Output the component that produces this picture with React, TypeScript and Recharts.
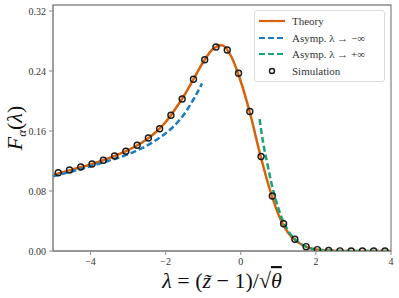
import React from "react"
import {
  ComposedChart,
  Line,
  Scatter,
  XAxis,
  YAxis,
  ReferenceArea,
} from "recharts"

// theory curve
const theoryLambda = [
  -5, -4.5, -4, -3.5, -3, -2.75, -2.5, -2.25, -2, -1.75, -1.5, -1.25, -1, -0.75,
  -0.5, -0.25, 0, 0.25, 0.5, 0.75, 1, 1.25, 1.5, 1.75, 2, 2.5, 3, 4,
]
const theoryF = [
  0.1015, 0.1085, 0.1153, 0.124, 0.1345, 0.141, 0.149, 0.159, 0.172, 0.189,
  0.208, 0.23, 0.252, 0.269, 0.2745, 0.259, 0.226, 0.183, 0.132, 0.086, 0.049,
  0.025, 0.0125, 0.0055, 0.002, 0.0003, 0, 0,
]

// asymptote lambda -> -inf
const negLambda = [-5, -4.5, -4, -3.5, -3, -2.5, -2.25, -2, -1.75, -1.5, -1.25, -1.03]
const negF = [0.0995, 0.106, 0.113, 0.1205, 0.129, 0.1405, 0.148, 0.157, 0.168, 0.183, 0.203, 0.2236]

// asymptote lambda -> +inf
const posLambda = [0.5, 0.6, 0.7, 0.8, 0.9, 1, 1.1, 1.25, 1.5, 1.75, 2, 2.5, 3, 4]
const posF = [0.176, 0.143, 0.118, 0.094, 0.074, 0.057, 0.043, 0.028, 0.013, 0.0055, 0.002, 0.0003, 0, 0]

// simulation points
const simLambda = [
  -4.86, -4.56, -4.26, -3.96, -3.66, -3.36, -3.06, -2.76, -2.46, -2.16, -1.86,
  -1.56, -1.26, -0.96, -0.66, -0.36, -0.06, 0.24, 0.54, 0.84, 1.14, 1.44, 1.74,
  2.04, 2.34, 2.64, 2.94, 3.24, 3.54, 3.84,
]
const simF = [
  0.1044, 0.108, 0.112, 0.116, 0.121, 0.1267, 0.133, 0.141, 0.1507, 0.163,
  0.181, 0.2027, 0.229, 0.255, 0.272, 0.268, 0.237, 0.186, 0.126, 0.0733,
  0.0364, 0.0156, 0.0058, 0.0018, 0.0006, 0.0002, 0.0001, 0, 0, 0,
]

const xTicks = [-4, -2, 0, 2, 4]
const yTicks = [0, 0.08, 0.16, 0.24, 0.32]

const ORANGE = "#d8620b"
const BLUE = "#1b7cc0"
const GREEN = "#16a37a"
const SPINE = "#8a8a8a"
const SERIF = "'Liberation Serif', 'DejaVu Serif', serif"

const zip = (xs: number[], ys: number[]) => xs.map((x, i) => ({ x, y: ys[i] }))

const theoryData = zip(theoryLambda, theoryF)
const negData = zip(negLambda, negF)
const posData = zip(posLambda, posF)
const simData = zip(simLambda, simF)

function SimDot(props: any) {
  const { cx, cy } = props
  if (cx == null || cy == null) return null
  return <circle cx={cx} cy={cy} r={3} fill="none" stroke="#1a1a1a" strokeWidth={1.4} />
}

function LegendBox() {
  const rows = [
    { kind: "solid", color: ORANGE, label: "Theory" },
    { kind: "dash", color: BLUE, label: "Asymp. λ → −∞" },
    { kind: "dash", color: GREEN, label: "Asymp. λ → +∞" },
    { kind: "dot", color: "#1a1a1a", label: "Simulation" },
  ]
  return (
    <div
      style={{
        position: "absolute",
        left: 254,
        top: 10,
        width: 131,
        border: "1px solid #dcdcdc",
        borderRadius: 3,
        background: "rgba(255,255,255,0.85)",
        padding: "2px 0",
        fontFamily: SERIF,
        fontSize: 11,
        color: "#333",
        boxSizing: "border-box",
      }}
    >
      {rows.map((r) => (
        <div key={r.label} style={{ display: "flex", alignItems: "center", height: 16.5 }}>
          <svg width={34} height={10} style={{ marginLeft: 3 }}>
            {r.kind === "dot" ? (
              <circle cx={14} cy={5} r={2.5} fill="none" stroke={r.color} strokeWidth={1.4} />
            ) : (
              <line
                x1={1}
                x2={27}
                y1={5}
                y2={5}
                stroke={r.color}
                strokeWidth={2.2}
                strokeDasharray={r.kind === "dash" ? "6 3" : undefined}
              />
            )}
          </svg>
          <span>{r.label}</span>
        </div>
      ))}
    </div>
  )
}

function XLabel(props: any) {
  const vb = props.viewBox || {}
  const cx = vb.x + vb.width / 2
  return (
    <text x={cx} y={288} textAnchor="middle" fontFamily={SERIF} fontSize={22} fill="#111">
      <tspan fontStyle="italic">λ</tspan>
      <tspan> = (</tspan>
      <tspan fontStyle="italic">z̃</tspan>
      <tspan> − 1)/√</tspan>
      <tspan fontStyle="italic" textDecoration="overline">θ</tspan>
    </text>
  )
}

function YLabel(props: any) {
  const vb = props.viewBox || {}
  const cy = vb.y + vb.height / 2
  return (
    <text
      x={22}
      y={cy}
      transform={`rotate(-90, 22, ${cy})`}
      textAnchor="middle"
      fontFamily={SERIF}
      fontSize={22}
      fill="#111"
    >
      <tspan fontStyle="italic">F</tspan>
      <tspan fontStyle="italic" fontSize={13} dy={4}>α</tspan>
      <tspan dy={-4}>(</tspan>
      <tspan fontStyle="italic">λ</tspan>
      <tspan>)</tspan>
    </text>
  )
}

export default function App() {
  const tick = { fontSize: 10, fill: "#333", fontFamily: SERIF }
  return (
    <div style={{ position: "absolute", left: 0, top: 0, width: 399, height: 298, background: "#fff" }}>
      <ComposedChart width={399} height={298} margin={{ top: 5, right: 8, left: 0, bottom: 0 }}>
        <XAxis
          type="number"
          dataKey="x"
          domain={[-5, 4]}
          ticks={xTicks}
          allowDataOverflow
          tickFormatter={(v) => (v < 0 ? `−${Math.abs(v)}` : `${v}`)}
          tick={tick}
          tickSize={4}
          tickMargin={3}
          stroke={SPINE}
          height={47}
          label={<XLabel />}
        />
        <YAxis
          type="number"
          dataKey="y"
          domain={[0, 0.328]}
          ticks={yTicks}
          allowDataOverflow
          tickFormatter={(v) => v.toFixed(2)}
          tick={tick}
          tickSize={4}
          tickMargin={3}
          stroke={SPINE}
          width={53}
          label={<YLabel />}
        />
        <ReferenceArea x1={-5} x2={4} y1={0} y2={0.328} fill="none" stroke={SPINE} strokeWidth={1.3} />
        <Line
          data={theoryData}
          dataKey="y"
          type="monotone"
          stroke={ORANGE}
          strokeWidth={2.5}
          dot={false}
          isAnimationActive={false}
        />
        <Line
          data={negData}
          dataKey="y"
          type="monotone"
          stroke={BLUE}
          strokeWidth={2.5}
          strokeDasharray="6 3"
          dot={false}
          isAnimationActive={false}
        />
        <Line
          data={posData}
          dataKey="y"
          type="monotone"
          stroke={GREEN}
          strokeWidth={2.5}
          strokeDasharray="6 3"
          dot={false}
          isAnimationActive={false}
        />
        <Scatter data={simData} dataKey="y" shape={<SimDot />} isAnimationActive={false} />
      </ComposedChart>
      <LegendBox />
    </div>
  )
}
